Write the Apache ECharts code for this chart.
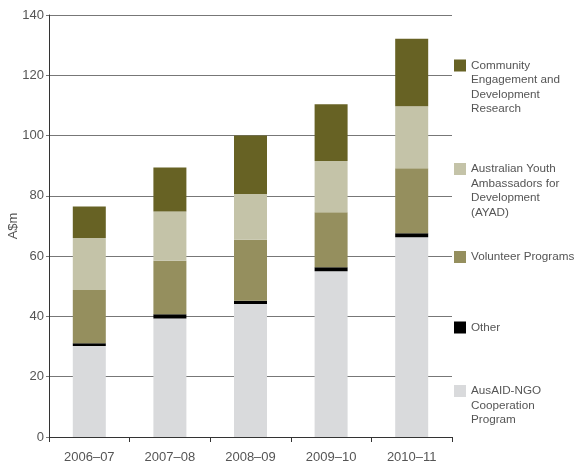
<!DOCTYPE html>
<html>
<head>
<meta charset="utf-8">
<script src="https://cdn.jsdelivr.net/npm/echarts@6/dist/echarts.min.js"></script>
<style>
  html, body { margin: 0; padding: 0; background: #fff; }
  #chart { width: 574px; height: 468px; }
</style>
</head>
<body>
<div id="chart"></div>
<script>
  // 年度
  const years = ['2006–07', '2007–08', '2008–09', '2009–10', '2010–11']

  // 各项目金额 (A$m)
  const ngoProgram = [30.2, 39.3, 44.1, 55.0, 66.3]
  const other = [0.9, 1.4, 1.1, 1.3, 1.3]
  const volunteer = [17.7, 17.8, 20.2, 18.3, 21.6]
  const ayad = [17.2, 16.3, 15.2, 17.0, 20.5]
  const community = [10.5, 14.6, 19.4, 18.8, 22.4]

  const yTicks = [0, 20, 40, 60, 80, 100, 120, 140]

  const chart = echarts.init(document.getElementById('chart'))

  const font = '"Liberation Sans", Arial, sans-serif'
  const textColor = '#555'
  const lineH = 14.5

  // 图例：图标对齐第一行文字
  const makeLegend = (name, label, lines, top) => {
    const h = 12 + (lines - 1) * lineH
    return {
      data: [name],
      left: 454,
      top: top - (lineH - 12) / 2,
      padding: 0,
      orient: 'vertical',
      itemWidth: 12,
      itemHeight: h,
      icon: 'path://M0,0H12V12H0Z M0,' + h + 'L12,' + h,
      selectedMode: false,
      formatter: () => label,
      textStyle: {
        color: textColor,
        fontSize: 11.7,
        fontFamily: font,
        lineHeight: lineH
      }
    }
  }

  const series = [
    { name: 'AusAID-NGO Cooperation Program', data: ngoProgram, color: '#d9dadc' },
    { name: 'Other', data: other, color: '#000000' },
    { name: 'Volunteer Programs', data: volunteer, color: '#958f5e' },
    { name: 'Australian Youth Ambassadors for Development (AYAD)', data: ayad, color: '#c4c3a8' },
    { name: 'Community Engagement and Development Research', data: community, color: '#676224' }
  ].map(s => ({
    name: s.name,
    type: 'bar',
    stack: 'total',
    barWidth: 33,
    itemStyle: { color: s.color },
    data: s.data
  }))

  const option = {
    animation: false,
    backgroundColor: '#fff',
    textStyle: { fontFamily: font },
    grid: {
      left: 49,
      right: 122,
      top: 15,
      bottom: 31,
      outerBoundsMode: 'none'
    },
    legend: [
      makeLegend('Community Engagement and Development Research',
        'Community\nEngagement and\nDevelopment\nResearch', 4, 59.5),
      makeLegend('Australian Youth Ambassadors for Development (AYAD)',
        'Australian Youth\nAmbassadors for\nDevelopment\n(AYAD)', 4, 163),
      makeLegend('Volunteer Programs', 'Volunteer Programs', 1, 251),
      makeLegend('Other', 'Other', 1, 321.5),
      makeLegend('AusAID-NGO Cooperation Program',
        'AusAID-NGO\nCooperation\nProgram', 3, 385)
    ],
    xAxis: {
      type: 'category',
      data: years,
      axisLine: { lineStyle: { color: '#333', width: 1 } },
      axisTick: { show: true, length: 5, lineStyle: { color: '#333' } },
      axisLabel: {
        color: textColor,
        fontSize: 13,
        fontFamily: font,
        margin: 14
      }
    },
    yAxis: {
      type: 'value',
      min: yTicks[0],
      max: yTicks[yTicks.length - 1],
      interval: 20,
      name: 'A$m',
      nameLocation: 'middle',
      nameGap: 29,
      nameMoveOverlap: false,
      nameTextStyle: {
        color: textColor,
        fontSize: 13,
        fontFamily: font
      },
      axisLine: { show: true, lineStyle: { color: '#333', width: 1 } },
      axisTick: { show: true, length: 3, lineStyle: { color: '#777' } },
      axisLabel: {
        color: textColor,
        fontSize: 13,
        fontFamily: font,
        margin: 5
      },
      splitLine: {
        lineStyle: { color: '#777', width: 1 }
      }
    },
    series: series
  }

  chart.setOption(option)
</script>
</body>
</html>
